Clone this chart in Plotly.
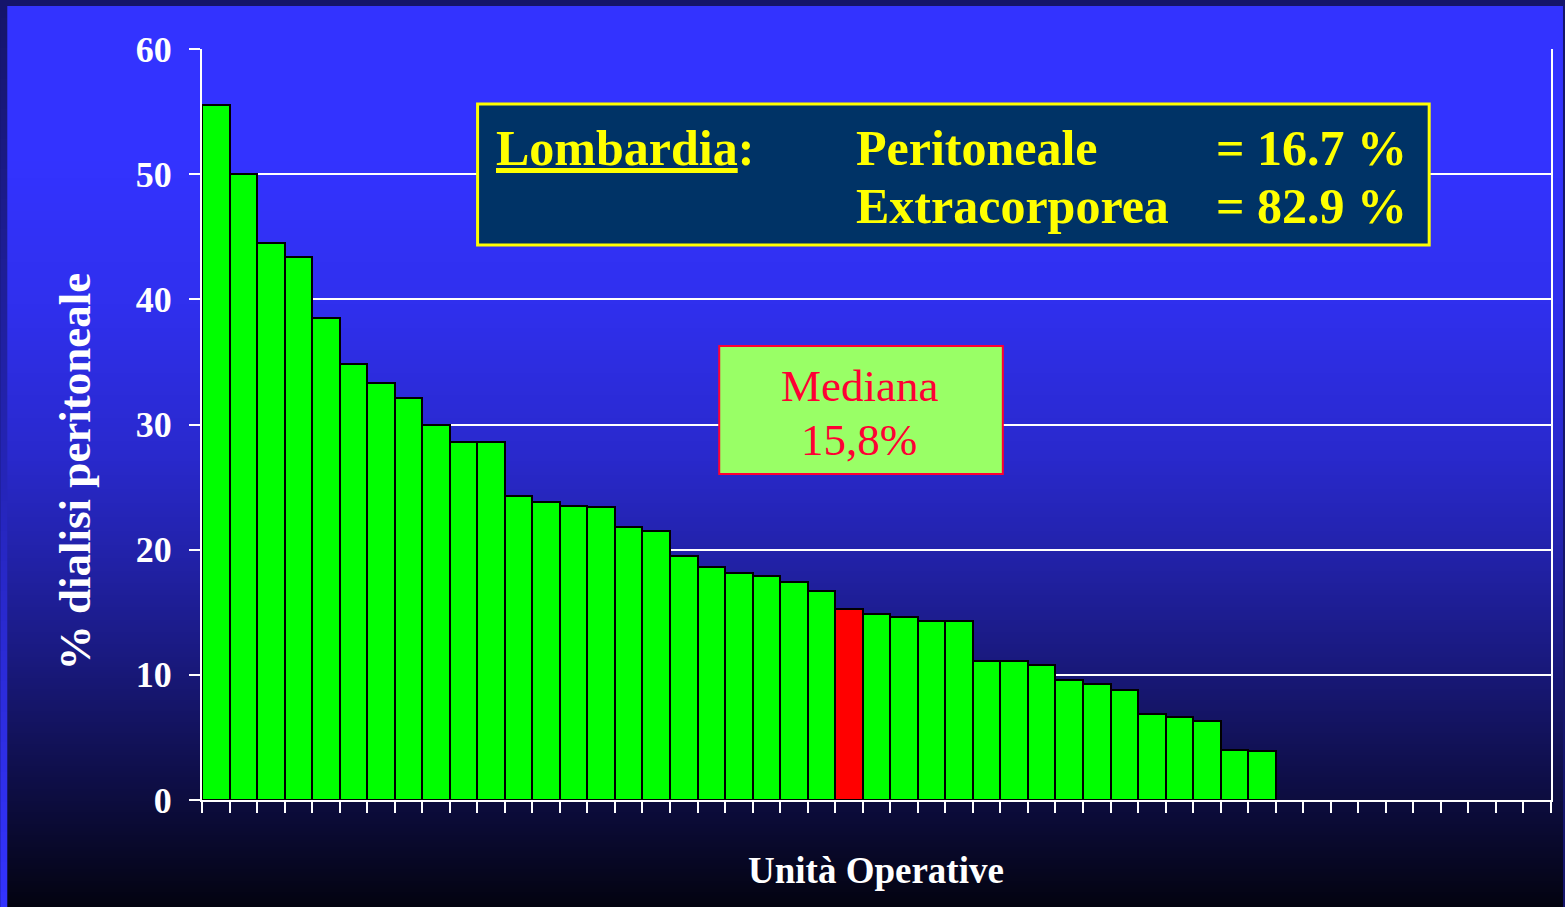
import base64
import struct
import zlib

import plotly.graph_objects as go

# ---------------- data ----------------
units = list(range(1, 40))  # Unità Operative (one slot per unit)
pd_percent = [
    55.5, 50.0, 44.5, 43.4, 38.5, 34.8, 33.3, 32.1, 30.0, 28.6,
    28.6, 24.3, 23.8, 23.5, 23.4, 21.8, 21.5, 19.5, 18.6, 18.1,
    17.9, 17.4, 16.7, 15.3, 14.9, 14.6, 14.3, 14.3, 11.1, 11.1,
    10.8, 9.6, 9.3, 8.8, 6.9, 6.6, 6.3, 4.0, 3.9,
]
median_unit = 24
n_slots = 49
y_ticks = [0, 10, 20, 30, 40, 50, 60]

region_label = "Lombardia"
modalities = ["Peritoneale", "Extracorporea"]
modality_share = ["16.7", "82.9"]
median_text = ["Mediana", "15,8%"]

# ---------------- geometry helpers (layout only) ----------------
W, H = 1565, 907
L, R, T, B = 202, 12, 49, 107
PW, PH = W - L - R, H - T - B


def px(x):
    return (x - L) / PW


def py(y):
    return (H - B - y) / PH


def png_column(rows):
    raw = b"".join(b"\x00" + bytes(c) for c in rows)

    def chunk(tag, data):
        return (struct.pack(">I", len(data)) + tag + data
                + struct.pack(">I", zlib.crc32(tag + data) & 0xFFFFFFFF))

    png = (b"\x89PNG\r\n\x1a\n"
           + chunk(b"IHDR", struct.pack(">IIBBBBB", 1, len(rows), 8, 2, 0, 0, 0))
           + chunk(b"IDAT", zlib.compress(raw, 9))
           + chunk(b"IEND", b""))
    return "data:image/png;base64," + base64.b64encode(png).decode()


def interp(stops, y):
    for (y0, v0), (y1, v1) in zip(stops, stops[1:]):
        if y0 <= y <= y1:
            t = (y - y0) / (y1 - y0) if y1 > y0 else 0
            return v0 + (v1 - v0) * t
    return stops[-1][1]


base_rgb = (51, 51, 255)
inner_stops = [(0, 1.0), (150, 1.0), (300, 0.93), (450, 0.8), (550, 0.66),
               (650, 0.5), (750, 0.32), (850, 0.15), (907, 0.05)]
inner_rows = [tuple(int(round(c * interp(inner_stops, y))) for c in base_rgb) for y in range(H - 6)]
outer_stops = [(0, 0.41), (907, 1.0)]
outer_rows = [tuple(int(round(c * interp(outer_stops, y))) for c in base_rgb) for y in range(H)]

# ---------------- figure ----------------
bar_colors = ["#ff0000" if u == median_unit else "#00ff00" for u in units]

fig = go.Figure(
    go.Bar(
        x=units,
        y=pd_percent,
        marker=dict(color=bar_colors, line=dict(color="black", width=2)),
        width=1,
        hoverinfo="x+y",
    )
)

serif = "Liberation Serif, Times New Roman, serif"

fig.update_layout(
    width=W,
    height=H,
    margin=dict(l=L, r=R, t=T, b=B, pad=0),
    paper_bgcolor="#15156b",
    plot_bgcolor="rgba(0,0,0,0)",
    showlegend=False,
    bargap=0,
    xaxis=dict(
        range=[0.5, n_slots + 0.5],
        tickmode="linear",
        tick0=0.5,
        dtick=1,
        ticks="outside",
        ticklen=11,
        tickwidth=2,
        tickcolor="white",
        showticklabels=False,
        showgrid=False,
        zeroline=False,
        showline=True,
        linecolor="white",
        linewidth=2,
        fixedrange=True,
    ),
    yaxis=dict(
        range=[0, 60],
        tickvals=y_ticks,
        ticks="outside",
        ticklen=11,
        tickwidth=2,
        tickcolor="white",
        tickfont=dict(family=serif, size=36, color="white", weight="bold"),
        ticklabelstandoff=10,
        showgrid=True,
        gridcolor="white",
        gridwidth=2,
        zeroline=False,
        showline=True,
        mirror=True,
        linecolor="white",
        linewidth=2,
        fixedrange=True,
    ),
    images=[
        dict(source=png_column(outer_rows), xref="paper", yref="paper",
             x=px(0), y=py(0), sizex=W / PW, sizey=H / PH,
             xanchor="left", yanchor="top", sizing="stretch", layer="below"),
        dict(source=png_column(inner_rows), xref="paper", yref="paper",
             x=px(7), y=py(6), sizex=(W - 7) / PW, sizey=(H - 6) / PH,
             xanchor="left", yanchor="top", sizing="stretch", layer="below"),
    ],
    shapes=[
        dict(type="rect", xref="paper", yref="paper",
             x0=px(478), x1=px(1431), y0=py(104), y1=py(245),
             fillcolor="#003366", line=dict(color="#ffff00", width=3), layer="above"),
        dict(type="rect", xref="paper", yref="paper",
             x0=px(720), x1=px(1004), y0=py(346), y1=py(474),
             fillcolor="#99ff66", line=dict(color="#ff0033", width=2), layer="above"),
    ],
)

yellow = dict(family=serif, size=50, color="#ffff00", weight="bold")
red = dict(family=serif, size=45, color="#ff0033")
white_title = dict(family=serif, color="white", weight="bold")

ann = [
    dict(text="<span style='text-decoration:underline;text-decoration-thickness:4px'>"
              + region_label + "</span>:",
         x=px(494), y=py(148), xanchor="left", yanchor="middle", font=yellow),
    dict(text=modalities[0], x=px(855), y=py(148), xanchor="left", yanchor="middle", font=yellow),
    dict(text="= " + modality_share[0] + " %", x=px(1216), y=py(148),
         xanchor="left", yanchor="middle", font=yellow),
    dict(text=modalities[1], x=px(855), y=py(206), xanchor="left", yanchor="middle", font=yellow),
    dict(text="= " + modality_share[1] + " %", x=px(1216), y=py(206),
         xanchor="left", yanchor="middle", font=yellow),
    dict(text=median_text[0], x=px(860), y=py(386), xanchor="center", yanchor="middle", font=red),
    dict(text=median_text[1], x=px(860), y=py(440), xanchor="center", yanchor="middle", font=red),
    dict(text="% dialisi peritoneale", x=px(75), y=py(471), textangle=-90,
         xanchor="center", yanchor="middle", font=dict(size=45, **white_title)),
    dict(text="Unità Operative", x=px(877), y=py(871), xanchor="center", yanchor="middle",
         font=dict(size=37, **white_title)),
]
for a in ann:
    a.update(xref="paper", yref="paper", showarrow=False)
fig.update_layout(annotations=ann)

fig.write_html(
    "out.html",
    config={"displayModeBar": False},
    post_script="document.body.style.margin='0';document.body.style.overflow='hidden';",
)
